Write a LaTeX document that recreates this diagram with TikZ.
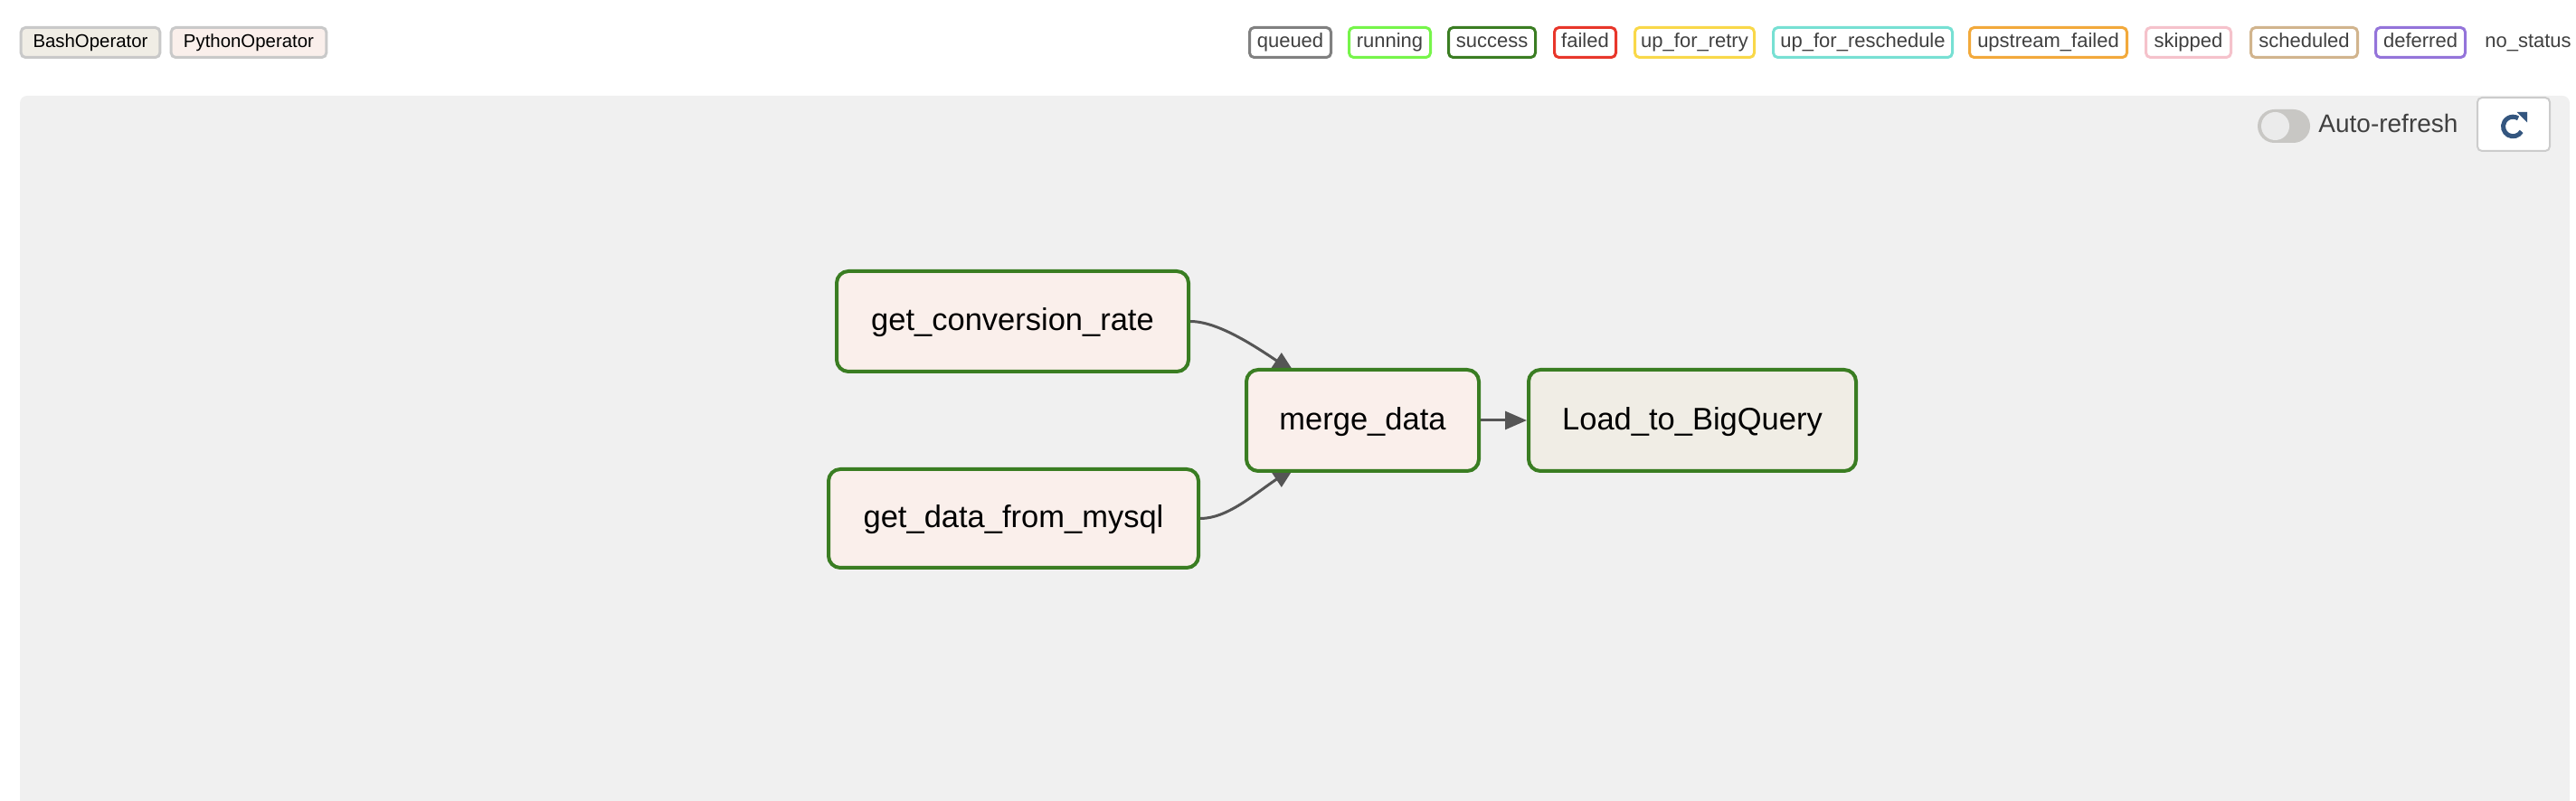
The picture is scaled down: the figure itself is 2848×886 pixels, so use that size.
\documentclass[tikz,border=0pt]{standalone}
\usepackage{fontspec}
\setmainfont{Liberation Sans}
\usetikzlibrary{arrows.meta}
\definecolor{panelgray}{HTML}{F0F0F0}
\definecolor{opborder}{HTML}{C9C9C9}
\definecolor{bashfill}{HTML}{F0EDE5}
\definecolor{pyfill}{HTML}{FAEFEB}
\definecolor{legtext}{HTML}{404040}
\definecolor{cqueued}{HTML}{808080}
\definecolor{crunning}{HTML}{76F54A}
\definecolor{csuccess}{HTML}{3A7D22}
\definecolor{cfailed}{HTML}{E8362A}
\definecolor{cretry}{HTML}{F9D849}
\definecolor{cresched}{HTML}{77E0D3}
\definecolor{cupfail}{HTML}{F2A93B}
\definecolor{cskipped}{HTML}{F5C2CB}
\definecolor{csched}{HTML}{D1B48D}
\definecolor{cdeferred}{HTML}{9474DA}
\definecolor{edgegray}{HTML}{555555}
\definecolor{togglegray}{HTML}{C8C7C4}
\definecolor{knobgray}{HTML}{EBEBEB}
\definecolor{btnborder}{HTML}{CCCCCC}
\definecolor{iconblue}{HTML}{34567F}
\pgfdeclarelayer{bg}
\pgfdeclarelayer{edges}
\pgfsetlayers{bg,edges,main}
\begin{document}
\begin{tikzpicture}[x=0.5pt,y=-0.5pt,
  opleg/.style={draw=opborder, line width=1.5pt, rounded corners=2.5pt, inner sep=0pt,
    minimum height=16.5pt, font=\fontsize{10.2}{12}\selectfont, text height=5.3pt, text depth=0pt},
  stleg/.style={fill=white, line width=1.5pt, rounded corners=2.5pt, inner sep=0pt,
    minimum height=16.5pt, font=\fontsize{11}{13}\selectfont, text=legtext, text height=5.7pt, text depth=0pt},
  task/.style={draw=csuccess, line width=2pt, rounded corners=6.5pt, inner sep=0pt,
    font=\fontsize{17.25}{20}\selectfont, text height=12.35pt, text depth=2pt},
  edge/.style={draw=edgegray, line width=1.5pt, -{Triangle[length=12pt,width=10pt]}}
]
\useasboundingbox (0,0) rectangle (2848,886);
\begin{pgfonlayer}{bg}
  \fill[white] (0,0) rectangle (2848,886);
  \fill[panelgray, rounded corners=4pt] (22,106) rectangle (2841,940);
\end{pgfonlayer}

% operator legend
\node[opleg, fill=bashfill, minimum width=76.8pt] (bash) at (100,47) {BashOperator};
\node[opleg, fill=pyfill, minimum width=85.8pt] (py) at (275,47) {PythonOperator};

% state legend
\node[stleg, draw=cqueued, minimum width=45pt] (sq) at (1426.5,47) {queued};
\node[stleg, draw=crunning, minimum width=45pt] (sr) at (1536.5,47) {running};
\node[stleg, draw=csuccess, minimum width=48pt] (ss) at (1649.5,47) {success};
\node[stleg, draw=cfailed, minimum width=34pt] (sf) at (1752.5,47) {failed};
\node[stleg, draw=cretry, minimum width=66pt] (sy) at (1873.5,47) {up\_for\_retry};
\node[stleg, draw=cresched, minimum width=99pt] (sh) at (2059.5,47) {up\_for\_reschedule};
\node[stleg, draw=cupfail, minimum width=87pt] (su) at (2264.5,47) {upstream\_failed};
\node[stleg, draw=cskipped, minimum width=47pt] (sk) at (2419.5,47) {skipped};
\node[stleg, draw=csched, minimum width=59pt] (sc) at (2547.5,47) {scheduled};
\node[stleg, draw=cdeferred, minimum width=49.5pt] (sd) at (2676,47) {deferred};
\node[inner sep=0pt, font=\fontsize{11}{13}\selectfont, text=legtext, text height=5.7pt, text depth=0pt] (sn) at (2795,47) {no\_status};

% toolbar
\node[fill=togglegray, rounded corners=9.25pt, minimum width=29pt, minimum height=18.5pt, inner sep=0pt] (tog) at (2525,139.5) {};
\node[fill=knobgray, circle, minimum size=15.5pt, inner sep=0pt] (knob) at (2515.5,139.5) {};
\node[anchor=west, inner sep=0pt, font=\fontsize{14}{16}\selectfont, text=legtext, text height=10pt, text depth=0pt] (auto) at (2563,136.7) {Auto-refresh};
\node[draw=btnborder, fill=white, line width=1pt, rounded corners=2.5pt, minimum width=40pt, minimum height=29.5pt, inner sep=0pt] (btn) at (2779,137.5) {};
\coordinate (ic) at (2778.3,140);
\draw[iconblue, line width=2.5pt] (ic) ++(30:10.8) arc[start angle=30, end angle=302, radius=10.8];
\fill[iconblue] (2782.5,124) -- (2794,124) -- (2794,135.5) -- cycle;

% tasks
\node[task, fill=pyfill, minimum width=194.5pt, minimum height=55.5pt] (gcr) at (1119.5,355.5) {get\_conversion\_rate};
\node[task, fill=pyfill, minimum width=204.5pt, minimum height=54.5pt] (gdm) at (1120.5,573.5) {get\_data\_from\_mysql};
\node[task, fill=pyfill, minimum width=128.5pt, minimum height=56pt] (md) at (1506.5,465) {merge\_data};
\node[task, fill=bashfill, minimum width=181pt, minimum height=56pt] (load) at (1871,465) {Load\_to\_BigQuery};

\coordinate (mt) at (1431,412);
\coordinate (mb) at (1431,517);
\begin{pgfonlayer}{edges}
  \draw[edge] (gcr.east) .. controls +(30,0) and +(-45,-30) .. (mt);
  \draw[edge] (gdm.east) .. controls +(30,0) and +(-45,30) .. (mb);
  \draw[edge] (md.east) -- (load.west);
\end{pgfonlayer}
\end{tikzpicture}
\end{document}
